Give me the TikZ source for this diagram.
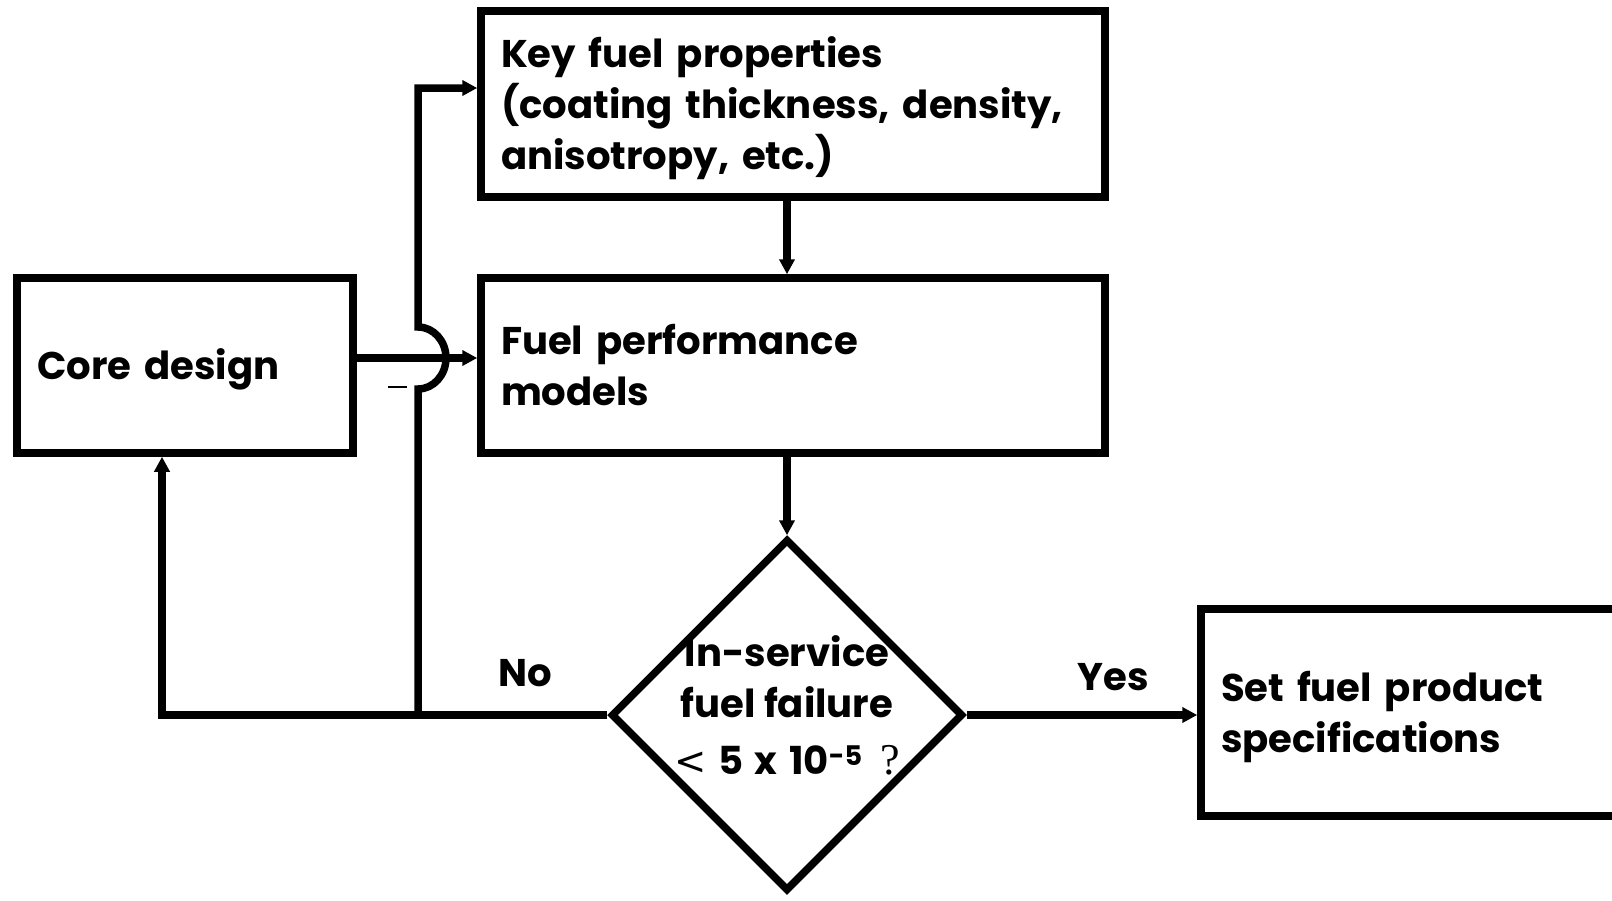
\documentclass[tikz,border=0pt]{standalone}
\usepackage{fontspec}
\setmainfont{Poppins}
\newfontfamily\qmark{Liberation Serif}
\newfontfamily\symfont{DejaVu Sans}
\usetikzlibrary{arrows.meta,shapes.geometric}
\tikzset{
  block/.style={draw, line width=7.5pt, rectangle, align=left, inner xsep=20pt, inner ysep=0pt,
    font=\fontsize{38.6}{51}\selectfont\bfseries,
    execute at begin node={\rule{0pt}{40pt}},
    execute at end node={\rule[-12pt]{0pt}{12pt}}},
  decision/.style={draw, line width=7.5pt, diamond, aspect=1, minimum size=352pt, inner sep=0pt},
  link/.style={line width=7.5pt},
  arr/.style={link, -{Triangle[length=15pt,width=15pt]}},
  lbl/.style={font=\fontsize{38.6}{51}\selectfont\bfseries}
}

\begin{document}
\begin{tikzpicture}[x=1pt,y=-1pt]
\useasboundingbox (0,0) rectangle (1612,900);

\node[block, text width=584pt, minimum height=186pt] (key) at (793,104)
  {Key fuel properties\\(coating thickness, density,\\anisotropy, etc.)};
\node[block, text width=584pt, minimum height=175pt] (fpm) at (793,365.5)
  {Fuel performance\\models};
\node[block, text width=296pt, minimum height=175pt] (core) at (185,365.5) {Core design};
\node[decision] (dia) at (787,715) {};
\node[lbl, align=center] (fail) at (787,705)
  {In-service\\fuel failure\\[6pt]{\symfont\mdseries <}\hspace{0.3em}5\hspace{0.3em}x\hspace{0.3em}10\textsuperscript{-5}\hspace{0.45em}{\qmark\mdseries\fontsize{44}{51}\selectfont ?}};
\node[block, text width=379pt, minimum height=207pt] (spec) at (1410.5,712.5)
  {Set fuel product\\specifications};

\node[lbl] (no) at (525,673) {No};
\node[lbl] (yes) at (1113,677) {Yes};

\coordinate (hop) at (418,358);
\coordinate (top) at (418,88);
\coordinate (ret) at (162,714);

\draw[arr] (key.south -| dia.north) -- (fpm.north -| dia.north);
\draw[arr] (fpm.south -| dia.north) -- (dia.north);
\draw[arr] (dia.east) -- (dia.east -| spec.west);
\draw[arr] (dia.west) -| (core.south -| ret);
\draw[arr] (core.east |- hop) -- (fpm.west |- hop);
\draw[arr] (dia.west -| hop) -- ([yshift=-31pt]hop)
  arc[start angle=-90, end angle=90, x radius=28pt, y radius=31pt]
  -- (top) -- (key.west |- top);
\draw[line width=2pt] (388,387) -- (407,387);
\end{tikzpicture}
\end{document}
